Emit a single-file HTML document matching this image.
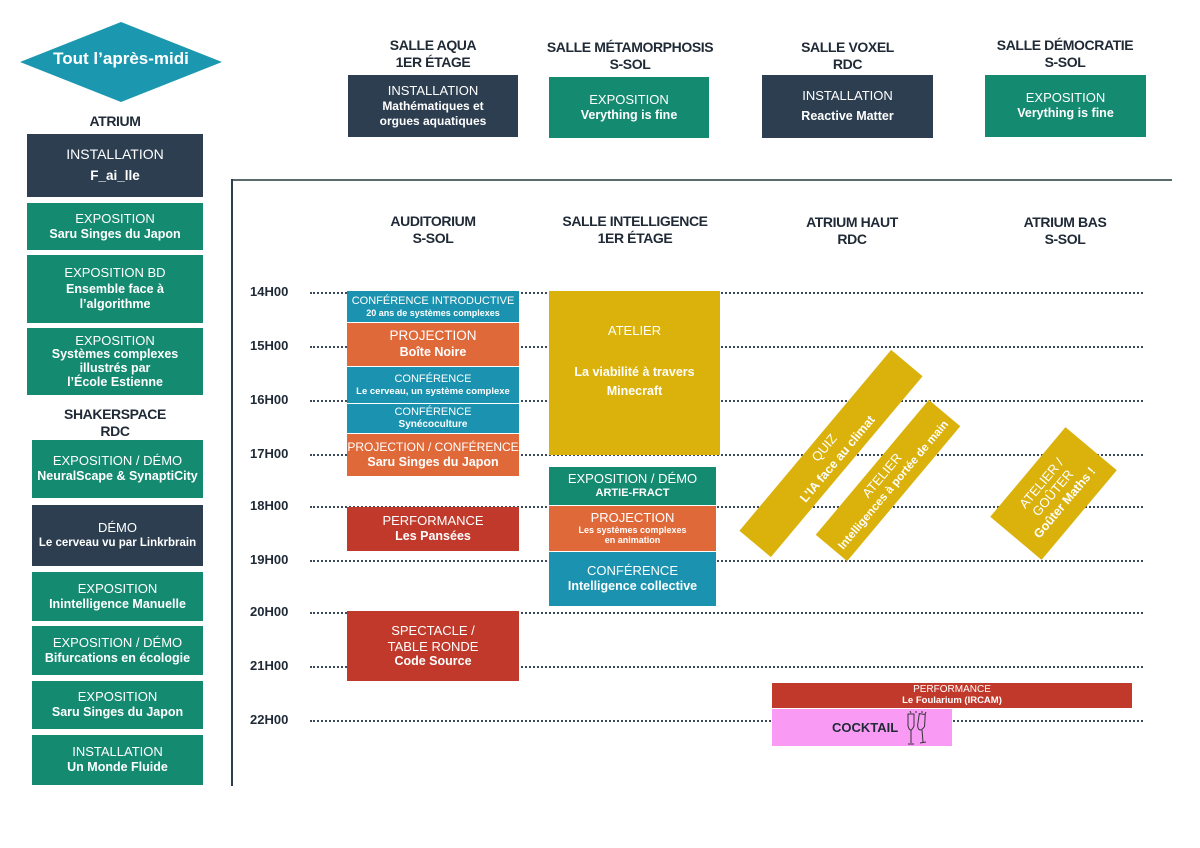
<!DOCTYPE html>
<html><head><meta charset="utf-8"><style>
*{margin:0;padding:0;box-sizing:border-box}
body{width:1200px;height:848px;background:#fff;position:relative;overflow:hidden;font-family:"Liberation Sans",Arial,sans-serif;color:#1f2a36}
.b{position:absolute;color:#fff;text-align:center;display:flex;flex-direction:column;justify-content:center;align-items:center;font-size:13px;line-height:1.25;white-space:nowrap}
.b b{font-size:12.5px}
.dk{background:#2c3e50}.gr{background:#148a70}.tl{background:#1b93b0}.or{background:#e0693a}.rd{background:#c0392b}.ye{background:#dbb10c}
.h{position:absolute;text-align:center;font-weight:bold;font-size:14px;line-height:17px;letter-spacing:-0.4px;color:#1f2a36;white-space:nowrap}
.t{position:absolute;left:250px;width:50px;font-weight:bold;font-size:13px;color:#1f2a36}
.l{position:absolute;left:310px;width:833px;height:0;border-top:2px dotted #3a4a5a}
.r{position:absolute;color:#fff;text-align:center;display:flex;flex-direction:column;justify-content:center;align-items:center;font-size:13px;line-height:1.3;background:#dbb10c;transform:rotate(-50deg);white-space:nowrap}
.r b{font-size:12.5px}
</style></head><body>
<svg style="position:absolute;left:20px;top:22px" width="202" height="80"><polygon points="0,40 101,0 202,40 101,80" fill="#1b98b0"/></svg>
<div style="position:absolute;left:20px;top:49px;width:202px;text-align:center;color:#fff;font-weight:bold;font-size:17px">Tout l’après-midi</div>
<div class="h" style="left:27px;top:113px;width:176px">ATRIUM</div>
<div class="b dk" style="left:27px;top:134px;width:176px;height:63px;font-size:14px"><span>INSTALLATION</span><b style="font-size:13.5px;margin-top:5px">F_ai_lle</b></div>
<div class="b gr" style="left:27px;top:203px;width:176px;height:47px"><span>EXPOSITION</span><b>Saru Singes du Japon</b></div>
<div class="b gr" style="left:27px;top:255px;width:176px;height:68px"><span>EXPOSITION BD</span><b>Ensemble face à<br>l’algorithme</b></div>
<div class="b gr" style="left:27px;top:328px;width:176px;height:67px;line-height:1.1"><span>EXPOSITION</span><b>Systèmes complexes<br>illustrés par<br>l’École Estienne</b></div>
<div class="h" style="left:27px;top:406px;width:176px">SHAKERSPACE<br>RDC</div>
<div class="b gr" style="left:32px;top:440px;width:171px;height:58px"><span>EXPOSITION / DÉMO</span><b>NeuralScape &amp; SynaptiCity</b></div>
<div class="b dk" style="left:32px;top:505px;width:171px;height:61px"><span>DÉMO</span><b style="font-size:11.5px">Le cerveau vu par Linkrbrain</b></div>
<div class="b gr" style="left:32px;top:572px;width:171px;height:49px"><span>EXPOSITION</span><b>Inintelligence Manuelle</b></div>
<div class="b gr" style="left:32px;top:626px;width:171px;height:49px"><span>EXPOSITION / DÉMO</span><b>Bifurcations en écologie</b></div>
<div class="b gr" style="left:32px;top:681px;width:171px;height:48px"><span>EXPOSITION</span><b>Saru Singes du Japon</b></div>
<div class="b gr" style="left:32px;top:735px;width:171px;height:50px"><span>INSTALLATION</span><b>Un Monde Fluide</b></div>

<div class="h" style="left:348px;top:37px;width:170px">SALLE AQUA<br>1ER ÉTAGE</div>
<div class="h" style="left:530px;top:39px;width:200px">SALLE MÉTAMORPHOSIS<br>S-SOL</div>
<div class="h" style="left:762px;top:39px;width:171px">SALLE VOXEL<br>RDC</div>
<div class="h" style="left:975px;top:37px;width:180px">SALLE DÉMOCRATIE<br>S-SOL</div>
<div class="b dk" style="left:348px;top:75px;width:170px;height:62px"><span>INSTALLATION</span><b style="font-size:12px">Mathématiques et<br>orgues aquatiques</b></div>
<div class="b gr" style="left:549px;top:77px;width:160px;height:61px"><span>EXPOSITION</span><b>Verything is fine</b></div>
<div class="b dk" style="left:762px;top:75px;width:171px;height:63px"><span>INSTALLATION</span><b style="margin-top:5px">Reactive Matter</b></div>
<div class="b gr" style="left:985px;top:75px;width:161px;height:62px"><span>EXPOSITION</span><b>Verything is fine</b></div>

<div style="position:absolute;left:231px;top:179px;width:941px;height:2px;background:#5a6a6a"></div>
<div style="position:absolute;left:231px;top:179px;width:2px;height:607px;background:#2c3e50"></div>

<div class="h" style="left:347px;top:213px;width:172px">AUDITORIUM<br>S-SOL</div>
<div class="h" style="left:540px;top:213px;width:190px">SALLE INTELLIGENCE<br>1ER ÉTAGE</div>
<div class="h" style="left:772px;top:214px;width:160px">ATRIUM HAUT<br>RDC</div>
<div class="h" style="left:985px;top:214px;width:160px">ATRIUM BAS<br>S-SOL</div>

<div class="t" style="top:284px">14H00</div><div class="l" style="top:292px"></div>
<div class="t" style="top:338px">15H00</div><div class="l" style="top:346px"></div>
<div class="t" style="top:392px">16H00</div><div class="l" style="top:400px"></div>
<div class="t" style="top:446px">17H00</div><div class="l" style="top:454px"></div>
<div class="t" style="top:498px">18H00</div><div class="l" style="top:506px"></div>
<div class="t" style="top:552px">19H00</div><div class="l" style="top:560px"></div>
<div class="t" style="top:604px">20H00</div><div class="l" style="top:612px"></div>
<div class="t" style="top:658px">21H00</div><div class="l" style="top:666px"></div>
<div class="t" style="top:712px">22H00</div><div class="l" style="top:720px"></div>

<div class="b tl" style="left:347px;top:291px;width:172px;height:31px;font-size:11px;line-height:1.15"><span>CONFÉRENCE INTRODUCTIVE</span><b style="font-size:9px">20 ans de systèmes complexes</b></div>
<div class="b or" style="left:347px;top:323px;width:172px;height:43px"><span style="font-size:13.5px">PROJECTION</span><b>Boîte Noire</b></div>
<div class="b tl" style="left:347px;top:367px;width:172px;height:36px;font-size:11px;line-height:1.2"><span>CONFÉRENCE</span><b style="font-size:9.5px">Le cerveau, un système complexe</b></div>
<div class="b tl" style="left:347px;top:404px;width:172px;height:29px;font-size:11px;line-height:1.15"><span>CONFÉRENCE</span><b style="font-size:10px">Synécoculture</b></div>
<div class="b or" style="left:347px;top:434px;width:172px;height:42px"><span style="font-size:12px">PROJECTION / CONFÉRENCE</span><b>Saru Singes du Japon</b></div>
<div class="b rd" style="left:347px;top:507px;width:172px;height:44px"><span>PERFORMANCE</span><b>Les Pansées</b></div>
<div class="b rd" style="left:347px;top:611px;width:172px;height:70px;line-height:1.2"><span>SPECTACLE /<br>TABLE RONDE</span><b>Code Source</b></div>

<div class="b ye" style="left:549px;top:291px;width:171px;height:164px;justify-content:flex-start;padding-top:32px"><span>ATELIER</span><b style="margin-top:24px;line-height:1.5">La viabilité à travers<br>Minecraft</b></div>
<div class="b gr" style="left:549px;top:467px;width:167px;height:38px;line-height:1.15"><span>EXPOSITION / DÉMO</span><b style="font-size:11px">ARTIE-FRACT</b></div>
<div class="b or" style="left:549px;top:506px;width:167px;height:45px;line-height:1.1"><span>PROJECTION</span><b style="font-size:9px">Les systèmes complexes<br>en animation</b></div>
<div class="b tl" style="left:549px;top:552px;width:167px;height:54px"><span>CONFÉRENCE</span><b>Intelligence collective</b></div>

<div class="r" style="left:713px;top:433px;width:236px;height:41px"><span>QUIZ</span><b>L’IA face au climat</b></div>
<div class="r" style="left:800px;top:460px;width:176px;height:41px"><span>ATELIER</span><b style="font-size:11.5px">Intelligences à portée de main</b></div>
<div class="r" style="left:995px;top:460px;width:117px;height:67px;line-height:1.15"><span>ATELIER /<br>GOÛTER</span><b>Goûter Maths !</b></div>

<div class="b rd" style="left:772px;top:683px;width:360px;height:25px;font-size:10px;line-height:1.15"><span>PERFORMANCE</span><b style="font-size:9.5px">Le Foularium (IRCAM)</b></div>
<div style="position:absolute;left:772px;top:709px;width:180px;height:37px;background:#f99bf5"></div>
<div style="position:absolute;left:832px;top:720px;font-weight:bold;font-size:13px;color:#1f2a36">COCKTAIL</div>
<svg style="position:absolute;left:905px;top:711px" width="24" height="36" viewBox="0 0 24 36" fill="none" stroke="#333" stroke-width="1"><path d="M3 3 L9 3 L9 15 Q7 19 6 19 Q4 19 3 15 Z"/><path d="M6 19 L6 32 M3 33 L9 33"/><path d="M13 3 L19 3 L20 15 Q18 19 16 19 Q14 19 13 15 Z" transform="rotate(8 16 12)"/><path d="M17 19 L18 31 M15 32 L21 31"/><path d="M5 0 L6 2 M11 0 L11 2 M17 0 L17 2 M21 1 L20 3"/></svg>
</body></html>
